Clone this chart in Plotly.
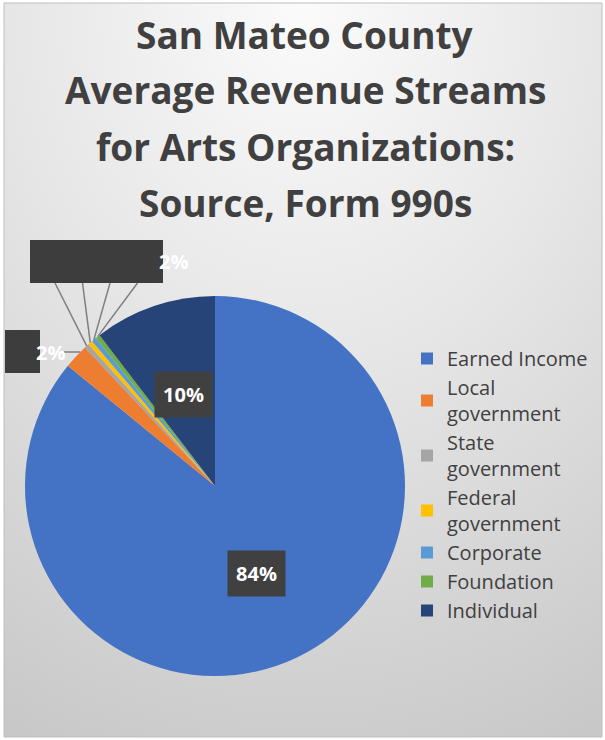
import math
import base64
import plotly.graph_objects as go

# ---------------- data ----------------
categories = ["Earned Income", "Local<br>government", "State<br>government",
              "Federal<br>government", "Corporate", "Foundation", "Individual"]
values = [85.9, 2.1, 0.4, 0.4, 0.4, 0.4, 10.4]
label_earned = "84%"
label_local = "2%"
label_small_group = "2%"
label_individual = "10%"
title_lines = ["San Mateo County", "Average Revenue Streams",
               "for Arts Organizations:", "Source, Form 990s"]
colors = ["#4472C4", "#ED7D31", "#A5A5A5", "#FFC000", "#5B9BD5", "#70AD47", "#264478"]

# ---------------- layout geometry (pixels) ----------------
W, H = 605, 740
cx, cy, R = 215, 486, 190


def px(x):
    return x / W


def py(y):
    return 1 - y / H


total = sum(values)
cum = []
c = 0
for v in values:
    cum.append((c / total, (c + v) / total))
    c += v


def pt(frac, r):
    th = 2 * math.pi * frac
    return cx + r * math.sin(th), cy - r * math.cos(th)


fig = go.Figure()
fig.add_trace(go.Pie(
    labels=categories, values=values, sort=False, direction="clockwise",
    rotation=0, marker=dict(colors=colors, line=dict(width=0)),
    textinfo="none", hoverinfo="label+percent",
    domain=dict(x=[px(cx - R), px(cx + R)], y=[py(cy + R), py(cy - R)]),
))

# background gradient
svg = ('<svg xmlns="http://www.w3.org/2000/svg" width="600" height="734">'
       '<defs><radialGradient id="g" cx="50%" cy="0%" r="110%" fx="50%" fy="0%">'
       '<stop offset="0" stop-color="#fbfbfb"/><stop offset="0.45" stop-color="#e6e6e6"/>'
       '<stop offset="1" stop-color="#c8c8c8"/></radialGradient></defs>'
       '<rect width="600" height="734" fill="url(#g)"/></svg>')
src = "data:image/svg+xml;base64," + base64.b64encode(svg.encode()).decode()

shapes = [dict(type="rect", xref="paper", yref="paper", x0=px(4), x1=px(602),
               y0=py(737), y1=py(3), line=dict(color="#bfbfbf", width=1), layer="above")]
annotations = []

title_font = dict(family="Open Sans", size=37, color="#404040", weight="bold")
title_y = [35, 90, 146, 202]
for t, yy in zip(title_lines, title_y):
    annotations.append(dict(text=t, x=px(305), y=py(yy), xref="paper", yref="paper",
                            xanchor="center", yanchor="middle", showarrow=False,
                            font=title_font))

box_font = dict(family="Open Sans", size=20, color="white", weight="bold")
# Earned income label
ex, ey = pt(sum(cum[0]) / 2, R * 0.51)
annotations.append(dict(text=label_earned, x=px(ex), y=py(ey), xref="paper", yref="paper",
                        xanchor="center", yanchor="middle",
                        showarrow=False, bgcolor="#404040", width=55, height=43,
                        font=box_font))
# Individual label
ix, iy = pt(sum(cum[6]) / 2, R * 0.51)
annotations.append(dict(text=label_individual, x=px(ix), y=py(iy), xref="paper", yref="paper",
                        xanchor="center", yanchor="middle",
                        showarrow=False, bgcolor="#404040", width=55, height=43,
                        font=box_font))

# Local government label (box + text + leader)
shapes.append(dict(type="rect", xref="paper", yref="paper", x0=px(5), x1=px(40),
                   y0=py(373), y1=py(330), fillcolor="#3d3d3d", line=dict(width=0)))
annotations.append(dict(text=label_local, x=px(51), y=py(352), xref="paper", yref="paper",
                        xanchor="center", yanchor="middle",
                        showarrow=False, font=box_font))
lx, ly = pt(cum[1][0] + (cum[1][1] - cum[1][0]) * 0.75, R)
shapes.append(dict(type="line", xref="paper", yref="paper", x0=px(64), y0=py(352),
                   x1=px(lx), y1=py(352), line=dict(color="#7f7f7f", width=1.5)))

# small-slice group label (box + text + leaders)
shapes.append(dict(type="rect", xref="paper", yref="paper", x0=px(30), x1=px(163),
                   y0=py(283), y1=py(240), fillcolor="#3d3d3d", line=dict(width=0)))
annotations.append(dict(text=label_small_group, x=px(173), y=py(262), xref="paper", yref="paper",
                        xanchor="center", yanchor="middle",
                        showarrow=False, font=box_font))
for k, i in enumerate([2, 3, 4, 5]):
    mx, my = pt(sum(cum[i]) / 2, R)
    sx = 55 + 27.5 * k
    shapes.append(dict(type="line", xref="paper", yref="paper", x0=px(sx), y0=py(283),
                       x1=px(mx), y1=py(my), line=dict(color="#7f7f7f", width=1.5)))

fig.update_layout(
    width=W, height=H, margin=dict(l=0, r=0, t=0, b=0),
    paper_bgcolor="white", plot_bgcolor="rgba(0,0,0,0)",
    images=[dict(source=src, xref="paper", yref="paper", x=px(4), y=py(3),
                 sizex=px(598), sizey=734 / H, sizing="stretch", layer="below")],
    shapes=shapes, annotations=annotations,
    showlegend=True,
    legend=dict(x=px(407), y=py(339), xanchor="left", yanchor="top",
                bgcolor="rgba(0,0,0,0)", font=dict(family="Open Sans", size=20, color="#404040"),
                traceorder="normal"),
)

fig.write_html("out.html", config={"displayModeBar": False},
               post_script="document.body.style.margin='0';")
